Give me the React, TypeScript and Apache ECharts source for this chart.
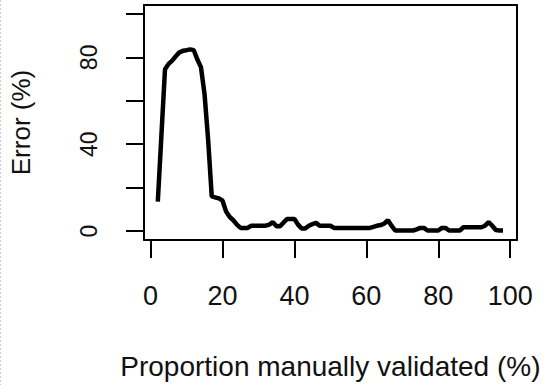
import React, { useEffect, useRef } from "react";
import * as echarts from "echarts";

const proportion: number[] = [];
for (let p = 2; p <= 98; p++) proportion.push(p);

const errorPct: number[] = [
  13.6, 44, 74.5, 77, 78.5, 80.5, 82.3, 83, 83.3, 83.7, // 2-11
  83.3, 79, 75.5, 63, 42, 16, 15.5, 15.1, 14, 9, // 12-21
  6.5, 5, 3, 1.5, 1.5, 1.5, 2.5, 2.5, 2.5, 2.5, // 22-31
  2.5, 3, 4.1, 2.3, 2.3, 4, 5.6, 5.6, 5.6, 3, // 32-41
  1.2, 1.2, 2.5, 3.2, 3.8, 2.5, 2.5, 2.5, 2.5, 1.5, // 42-51
  1.5, 1.5, 1.5, 1.5, 1.5, 1.5, 1.5, 1.5, 1.5, 1.5, // 52-61
  2, 2.5, 2.8, 3.5, 5, 2.5, 0.3, 0.3, 0.3, 0.3, // 62-71
  0.3, 0.3, 0.8, 1.5, 1.5, 0.3, 0.3, 0.3, 0.3, 1.5, // 72-81
  1.5, 0.3, 0.3, 0.3, 0.3, 1.8, 1.8, 1.8, 1.8, 1.8, // 82-91
  1.8, 2.5, 4.1, 2.5, 0.5, 0.3, 0.3, // 92-98
];

const xTicks = [0, 20, 40, 60, 80, 100];
const xTickLabels = [0, 20, 40, 60, 80, 100];
const yTicks = [0, 20, 40, 60, 80, 100];
const yTickLabels = [0, 40, 80];

const xTitle = "Proportion manually validated (%)";
const yTitle = "Error (%)";

const FONT = "'Liberation Sans', Arial, sans-serif";
const X_MIN = -1.84;
const X_MAX = 101.84;
const Y_MIN = -4.08;
const Y_MAX = 104.1;

const frameAxis = {
  splitLine: { show: false },
  axisTick: { show: false },
  axisLabel: { show: false },
  axisLine: { show: true, onZero: false, lineStyle: { color: "#000", width: 2 } },
};

export default function App() {
  const ref = useRef<HTMLDivElement>(null);
  useEffect(() => {
    if (!ref.current) return;
    const chart = echarts.init(ref.current, null, { renderer: "svg" });
    const data = proportion.map((p, i) => [p, errorPct[i]]);
    chart.setOption({
      animation: false,
      backgroundColor: "#ffffff",
      textStyle: { fontFamily: FONT, color: "#000" },
      grid: { left: 143, top: 5, width: 383, height: 239 },
      xAxis: [
        {
          type: "value",
          position: "bottom",
          min: X_MIN,
          max: X_MAX,
          splitLine: { show: false },
          axisLine: { show: true, onZero: false, lineStyle: { color: "#000", width: 2 } },
          axisTick: {
            show: true,
            length: 18,
            inside: false,
            customValues: xTicks,
            lineStyle: { color: "#000", width: 2 },
          },
          axisLabel: {
            customValues: xTickLabels,
            fontSize: 27,
            fontFamily: FONT,
            color: "#111",
            margin: 42,
          },
          name: xTitle,
          nameLocation: "middle",
          nameGap: 112,
          nameTextStyle: { fontSize: 28, fontFamily: FONT, color: "#111" },
        },
        { type: "value", position: "top", min: X_MIN, max: X_MAX, ...frameAxis },
      ],
      yAxis: [
        {
          type: "value",
          position: "left",
          min: Y_MIN,
          max: Y_MAX,
          splitLine: { show: false },
          axisLine: { show: true, onZero: false, lineStyle: { color: "#000", width: 2 } },
          axisTick: {
            show: true,
            length: 18,
            inside: false,
            customValues: yTicks,
            lineStyle: { color: "#000", width: 2 },
          },
          axisLabel: {
            customValues: yTickLabels,
            rotate: 90,
            fontSize: 23,
            fontFamily: FONT,
            color: "#111",
            margin: 44,
          },
          name: yTitle,
          nameLocation: "middle",
          nameGap: 110,
          nameTextStyle: { fontSize: 26, fontFamily: FONT, color: "#111" },
        },
        { type: "value", position: "right", min: Y_MIN, max: Y_MAX, ...frameAxis },
      ],
      graphic: [
        {
          type: "line",
          shape: { x1: 0.5, y1: 0, x2: 0.5, y2: 385 },
          style: { stroke: "#cccccc", lineWidth: 1, lineDash: [2, 2] },
        },
      ],
      series: [
        {
          type: "line",
          xAxisIndex: 0,
          yAxisIndex: 0,
          data,
          symbol: "none",
          lineStyle: { color: "#000", width: 4.5 },
          clip: false,
        },
      ],
    });
    return () => chart.dispose();
  }, []);
  return (
    <div
      ref={ref}
      style={{ position: "absolute", left: 0, top: 0, width: 543, height: 385 }}
    />
  );
}
